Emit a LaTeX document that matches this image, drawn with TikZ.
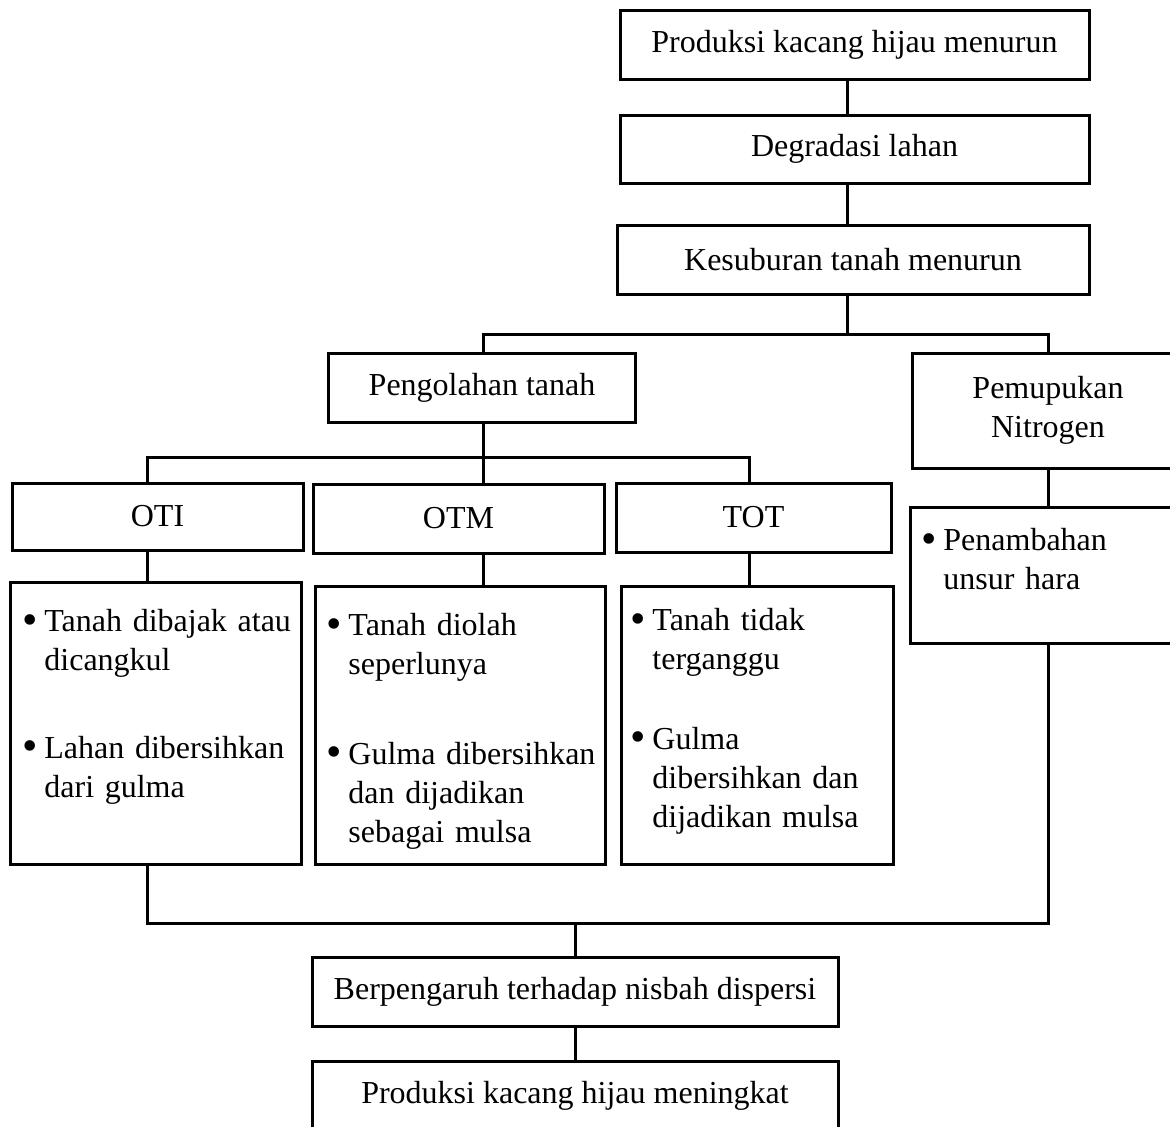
\documentclass[tikz,border=0pt]{standalone}
\usepackage{fontspec}
\usepackage{graphicx}
\setmainfont{Liberation Serif}
\newcommand{\titik}{\raisebox{-1.2pt}{\fontsize{22}{22}\selectfont\textbullet}}
\newcommand{\butir}[1]{\noindent\makebox[11pt][l]{\titik}\parbox[t]{125pt}{\raggedright #1}}

\begin{document}
\begin{tikzpicture}[x=0.5pt,y=-0.5pt]
      \useasboundingbox (0,0) rectangle (1170,1126);
      \clip (0,0) rectangle (1170,1126);
      \begin{scope}[every node/.style={rectangle,draw,line width=1.5pt,inner sep=0pt,align=center,font=\fontsize{16}{19.5}\selectfont}]
      \node[minimum width=234.5pt,minimum height=34.5pt] (atas) at (854.5,44.5) {Produksi kacang hijau menurun};
      \node[minimum width=234.5pt,minimum height=34pt] (degradasi) at (854.5,149) {Degradasi lahan};
      \node[minimum width=236pt,minimum height=34.5pt] (kesuburan) at (853,259.5) {Kesuburan tanah menurun};
      \node[minimum width=153.5pt,minimum height=34.5pt] (olah) at (482,387.5) {Pengolahan tanah};
      \node[minimum width=136pt,minimum height=57.5pt] (pupuk) at (1048,410.5) {Pemupukan\\Nitrogen};
      \node[minimum width=145.5pt,minimum height=33.5pt] (oti) at (157.5,516.5) {OTI};
      \node[minimum width=145.5pt,minimum height=34.5pt] (otm) at (458.5,518.5) {OTM};
      \node[minimum width=137.5pt,minimum height=34.5pt] (tot) at (753.5,517.5) {TOT};
      \node[minimum width=145.5pt,minimum height=141pt] (otiisi) at (155.5,723) {};
      \node[minimum width=145pt,minimum height=139pt] (otmisi) at (460,725) {};
      \node[minimum width=136pt,minimum height=139pt] (totisi) at (757,725) {};
      \node[minimum width=138pt,minimum height=68pt] (tambah) at (1048,575) {};
      \node[minimum width=263pt,minimum height=34.5pt] (pengaruh) at (575,991.5) {Berpengaruh terhadap nisbah dispersi};
      \node[minimum width=263pt,minimum height=34.5pt] (hasil) at (575,1095.5) {Produksi kacang hijau meningkat};
      \end{scope}
      \begin{scope}[every node/.style={inner sep=0pt,anchor=north west,text width=140pt,font=\fontsize{16}{19.5}\selectfont}]
      \node (otiteks) at (22,609) {\butir{Tanah dibajak atau\\dicangkul}\par\vspace{28.3pt}
            \butir{Lahan dibersihkan\\dari gulma}};
      \node (otmteks) at (326,613) {\butir{Tanah diolah\\seperlunya}\par\vspace{29.3pt}
            \butir{Gulma dibersihkan\\dan dijadikan\\sebagai mulsa}};
      \node (totteks) at (630,608) {\butir{Tanah tidak\\terganggu}\par\vspace{24.3pt}
            \butir{Gulma\\dibersihkan dan\\dijadikan mulsa}};
      \node (tambahteks) at (921,528) {\butir{Penambahan\\unsur hara}};
      \end{scope}
      \coordinate (cabang1) at (847,334);
      \coordinate (cabang2) at (483,457);
      \coordinate (kiri) at (147,457);
      \coordinate (kanan) at (749,457);
      \coordinate (gabung) at (575,923);
      \begin{scope}[line width=1.5pt,every edge/.style={draw=black,line width=1.5pt}]
      \path (atas.south -| cabang1) edge (degradasi.north -| cabang1);
      \path (degradasi.south -| cabang1) edge (kesuburan.north -| cabang1);
      \path (kesuburan.south -| cabang1) edge (cabang1);
      \draw (olah.north -| cabang2) |- (cabang1) -| (pupuk.north);
      \path (olah.south -| cabang2) edge (cabang2);
      \draw (kiri |- oti.north) -- (kiri) -- (kanan) -- (kanan |- tot.north);
      \path (cabang2) edge (cabang2 |- otm.north);
      \path (oti.south -| kiri) edge (otiisi.north -| kiri);
      \path (otm.south -| cabang2) edge (otmisi.north -| cabang2);
      \path (tot.south -| kanan) edge (totisi.north -| kanan);
      \path (pupuk) edge (tambah);
      \draw (otiisi.south -| kiri) |- (gabung) -| (tambah.south);
      \path (gabung) edge (pengaruh);
      \path (pengaruh) edge (hasil);
      \end{scope}
\end{tikzpicture}
\end{document}
